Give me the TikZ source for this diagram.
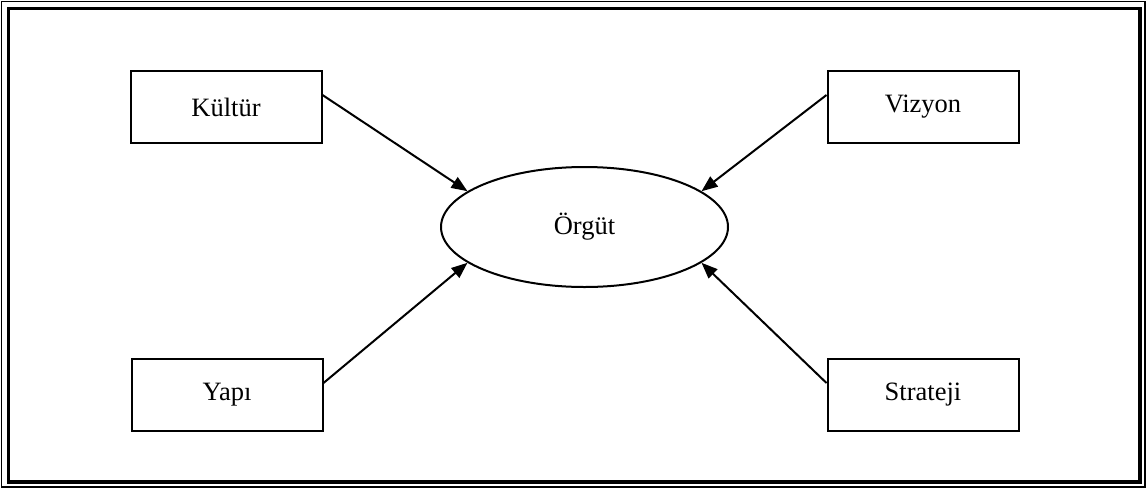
\documentclass[tikz,border=0pt]{standalone}
\usepackage{fontspec}
\setmainfont{Liberation Serif}
\usetikzlibrary{shapes.geometric,arrows.meta}

\tikzset{
  factor/.style={draw, line width=2pt, rectangle, minimum width=191pt,
    minimum height=72pt, inner sep=0pt},
  core/.style={draw, line width=2pt, ellipse, minimum width=287pt,
    minimum height=120pt, inner sep=0pt},
  influence/.style={line width=2pt, -{Triangle[length=16pt,width=12.5pt]}},
  boxtext/.style={anchor=base}
}

\begin{document}
\begin{tikzpicture}[x=1pt, y=-1pt, font=\fontsize{26.5}{31}\selectfont]
  \useasboundingbox (0,0) rectangle (1147,490);

  % double page frame: thin outer line, thick inner line
  \draw[line width=1.8pt] (1.5,1.5) rectangle (1145,487);
  \draw[line width=3.2pt] (8.5,8.5) rectangle (1140,482);

  % central concept
  \node[core] (org) at (584.5,227) {Örgüt};

  % surrounding factors
  \node[factor, label={[boxtext]center:Kültür}]   (kultur)  at (226,107) {};
  \node[factor, label={[boxtext]center:Vizyon}]   (vizyon)  at (923,107) {};
  \node[factor, label={[boxtext]center:Yapı}]     (yapi)    at (227,395) {};
  \node[factor, label={[boxtext]center:Strateji}] (strateji) at (923,395) {};

  % influences on the organisation
  \draw[influence] ([yshift=12pt]kultur.east)   -- (org.163);
  \draw[influence] ([yshift=12pt]vizyon.west)   -- (org.17);
  \draw[influence] ([yshift=12pt]yapi.east)     -- (org.197);
  \draw[influence] ([yshift=12pt]strateji.west) -- (org.-17);
\end{tikzpicture}
\end{document}
